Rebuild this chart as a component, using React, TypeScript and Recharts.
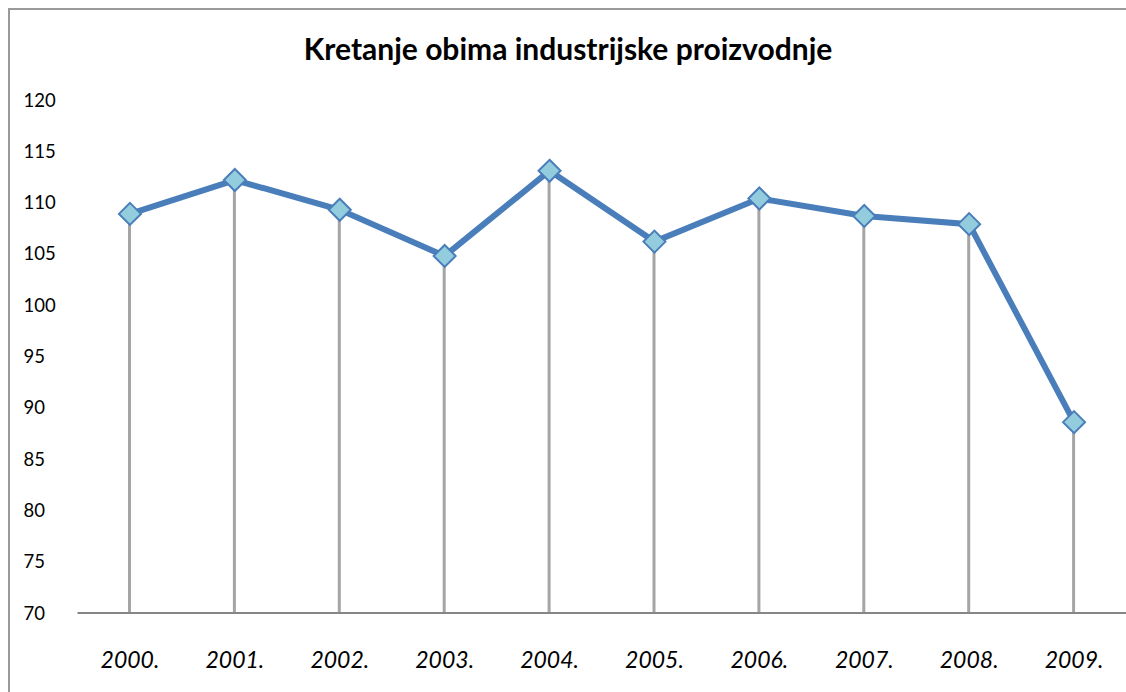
import React from 'react';
import { ComposedChart, Line, Bar, XAxis, YAxis } from 'recharts';

const years = ['2000.', '2001.', '2002.', '2003.', '2004.', '2005.', '2006.', '2007.', '2008.', '2009.'];
const values = [108.9, 112.2, 109.3, 104.8, 113.1, 106.2, 110.4, 108.7, 107.9, 88.6];
const yTicks = [70, 75, 80, 85, 90, 95, 100, 105, 110, 115, 120];
const title = 'Kretanje obima industrijske proizvodnje';

const data = years.map((year, i) => ({ year, value: values[i] }));

const FONT = 'Lato, Carlito, Calibri, sans-serif';

const DropLine = (props: any) => {
  const { x, y, width, height } = props;
  const cx = x + width / 2;
  return <line x1={cx} x2={cx} y1={y + 4} y2={y + height} stroke="#A5A5A5" strokeWidth={3} />;
};

const Diamond = (props: any) => {
  const { cx, cy, index } = props;
  const r = 11;
  return (
    <path
      key={`d-${index}`}
      d={`M${cx},${cy - r} L${cx + r},${cy} L${cx},${cy + r} L${cx - r},${cy} Z`}
      fill="#93CDDD"
      stroke="#4A7EBB"
      strokeWidth={2}
    />
  );
};

const YTick = (props: any) => {
  const { x, y, payload } = props;
  return (
    <text x={x - 46} y={y} dy={6.5} textAnchor="start" fontFamily={FONT} fontSize={18.5} fill="#000">
      {payload.value}
    </text>
  );
};

const XTick = (props: any) => {
  const { x, y, payload } = props;
  return (
    <text x={x} y={y} dy={47} textAnchor="middle" fontFamily={FONT} fontSize={23} fontStyle="italic" fill="#000">
      {payload.value}
    </text>
  );
};

export default function App() {
  return (
    <div
      style={{
        position: 'fixed',
        left: 8,
        top: 8,
        width: 1118,
        height: 684,
        overflow: 'hidden',
        borderLeft: '2px solid #9A9A9A',
        borderTop: '2px solid #9A9A9A',
        background: '#fff',
      }}
    >
      <div
        style={{
          position: 'absolute',
          left: 0,
          width: 1116,
          top: 19,
          textAlign: 'center',
          fontFamily: FONT,
          fontWeight: 700,
          fontSize: 30,
          lineHeight: '38px',
          color: '#000',
        }}
      >
        {title}
      </div>
      <ComposedChart
        width={1130}
        height={700}
        data={data}
        margin={{ top: 90, right: 13.5, bottom: 37, left: 7.5 }}
      >
        <XAxis
          dataKey="year"
          axisLine={{ stroke: '#868686', strokeWidth: 2 }}
          tickLine={false}
          tick={<XTick />}
          height={60}
          interval={0}
        />
        <YAxis
          domain={[70, 120]}
          ticks={yTicks}
          axisLine={false}
          tickLine={false}
          tick={<YTick />}
          width={60}
          allowDataOverflow
        />
        <Bar dataKey="value" barSize={10} shape={<DropLine />} isAnimationActive={false} />
        <Line
          dataKey="value"
          stroke="#4A7EBB"
          strokeWidth={6}
          dot={<Diamond />}
          activeDot={false}
          isAnimationActive={false}
        />
      </ComposedChart>
    </div>
  );
}
